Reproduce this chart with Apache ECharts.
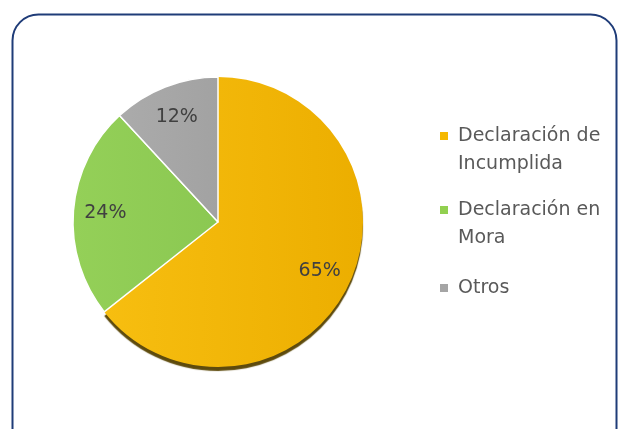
<!DOCTYPE html>
<html>
<head>
<meta charset="utf-8">
<script src="https://cdn.jsdelivr.net/npm/echarts@6/dist/echarts.min.js"></script>
<style>
  html, body { margin: 0; padding: 0; background: #fff; }
  #chart { width: 619px; height: 429px; }
</style>
</head>
<body>
<div id="chart"></div>
<script>
const categories = ['Declaración de\nIncumplida', 'Declaración en\nMora', 'Otros'];
const values = [65, 24, 12];
const colors = [
  { type: 'linear', x: 0, y: 0, x2: 1, y2: 0, colorStops: [{ offset: 0, color: '#F7BE10' }, { offset: 1, color: '#ECAE00' }] },
  { type: 'linear', x: 0, y: 0, x2: 1, y2: 0, colorStops: [{ offset: 0, color: '#94D058' }, { offset: 1, color: '#8BC852' }] },
  { type: 'linear', x: 0, y: 0, x2: 1, y2: 0, colorStops: [{ offset: 0, color: '#ABABAB' }, { offset: 1, color: '#A2A2A2' }] },
];
const legendColors = ['#F5B800', '#92D050', '#A5A5A5'];

// legend icons: square beside the first text line (two-line items) or centred (one-line item),
// box is 13 wide so the text sits a bit further from the square
const iconTop = 'path://M0,0M13,36M0,0L8,0L8,8L0,8Z';
const iconMid = 'path://M0,0M13,36M0,14L8,14L8,22L0,22Z';

const chart = echarts.init(document.getElementById('chart'), null, { renderer: 'canvas' });

// big slice gets the dark drop edge at the bottom, without a border so the stroke casts no shadow
const pieData = categories.map((name, i) => ({
  name, value: values[i],
  itemStyle: i === 0
    ? { color: colors[i], borderWidth: 0, shadowColor: 'rgba(85, 65, 0, 0.95)', shadowOffsetY: 4, shadowBlur: 1 }
    : { color: colors[i] },
}));

chart.setOption({
  animation: false,
  graphic: [{
    type: 'rect', left: 10, top: 12, silent: true,
    shape: { width: 604, height: 440, r: 26 },
    style: { fill: 'none', stroke: '#1F3C78', lineWidth: 2 },
  }],
  legend: {
    orient: 'vertical', left: 435, top: 117,
    itemWidth: 13, itemHeight: 36, itemGap: 18,
    textStyle: { fontFamily: 'DejaVu Sans', fontSize: 19, color: '#595959', lineHeight: 28 },
    data: categories.map((name, i) => ({
      name,
      itemStyle: { color: legendColors[i], borderWidth: 0, shadowBlur: 0, shadowOffsetY: 0, shadowColor: 'transparent' },
      icon: name.includes('\n') ? iconTop : iconMid,
    })),
  },
  series: [
    {
      type: 'pie', center: [218, 222], radius: 145, startAngle: 90, clockwise: true,
      label: { show: false }, labelLine: { show: false }, silent: true,
      itemStyle: { borderColor: '#fff', borderWidth: 1.5 },
      data: pieData,
    },
    {
      type: 'pie', center: [218, 222], radius: 220, startAngle: 90, clockwise: true, silent: true,
      itemStyle: { color: 'rgba(0,0,0,0)', borderWidth: 0 },
      label: { show: true, position: 'inside', formatter: '{c}%', fontFamily: 'DejaVu Sans', fontSize: 19, color: '#404040' },
      labelLine: { show: false },
      data: categories.map((name, i) => ({ name, value: values[i] })),
    },
  ],
});
</script>
</body>
</html>
